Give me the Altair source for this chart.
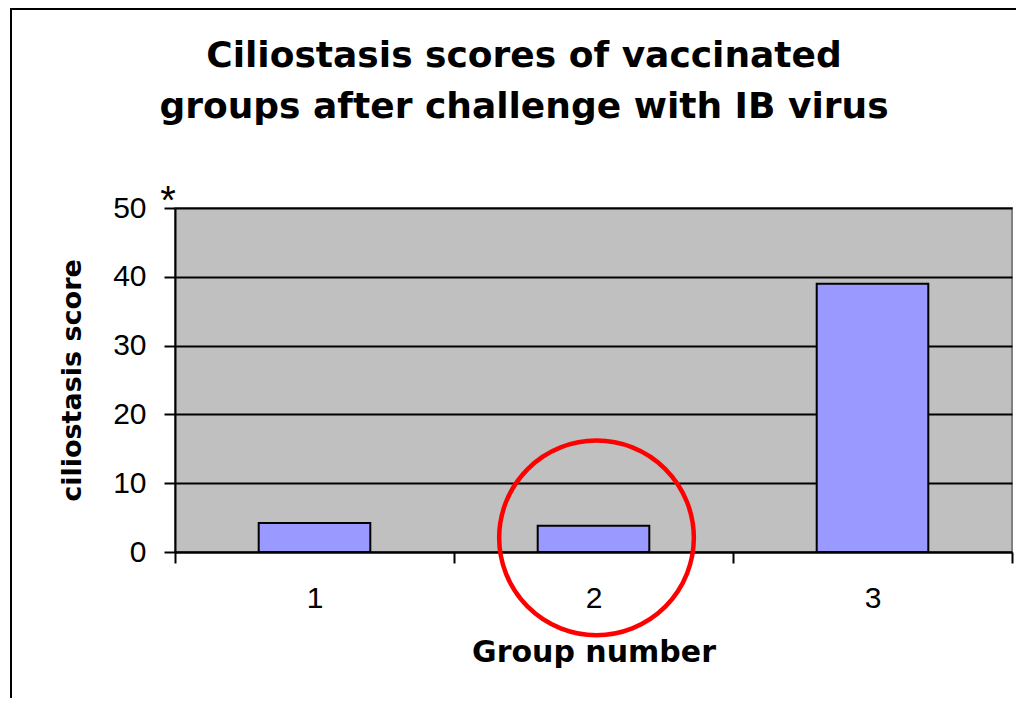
import altair as alt
import pandas as pd

# ---- data ----
groups = ["1", "2", "3"]
scores = [4.2, 3.8, 39.0]
y_ticks = [0, 10, 20, 30, 40, 50]
title_lines = ["Ciliostasis scores of vaccinated", "groups after challenge with IB virus"]
x_title = "Group number"
y_title = "ciliostasis score"
highlight_group = ["2"]
highlight_level = [2.2]
star_text = "*"
star_level = [50]

df = pd.DataFrame({"group": groups, "score": scores})
hl = pd.DataFrame({"group": highlight_group, "level": highlight_level})
star = pd.DataFrame({"level": star_level})
one = pd.DataFrame({"k": [0]})

W, H = 837, 344
PAD_L, PAD_T, PAD_R, PAD_B = 167, 200, 4, 146

x_enc = alt.X(
    "group:N",
    sort=groups,
    scale=alt.Scale(paddingInner=0, paddingOuter=0),
    axis=alt.Axis(
        title=x_title, labelAngle=0, tickBand="extent", grid=False,
        tickSize=11, labelPadding=20, labelFontSize=30, titleFontSize=30,
        titlePadding=24,
    ),
)
y_enc = alt.Y(
    "score:Q",
    scale=alt.Scale(domain=[0, 50], nice=False),
    axis=alt.Axis(
        title=y_title, values=y_ticks, grid=True, gridColor="black", gridWidth=2,
        tickSize=11, labelPadding=18, labelFontSize=30, titleFontSize=27,
        titlePadding=26,
    ),
)

bars = alt.Chart(df).mark_bar(
    color="#9999ff", stroke="black", strokeWidth=2, width=alt.RelativeBandSize(0.4)
).encode(x=x_enc, y=y_enc)

circle = alt.Chart(hl).mark_point(
    shape="circle", filled=False, size=37900, color="#ff0000", strokeWidth=4.5,
    opacity=1, xOffset=3, yOffset=1
).encode(x=alt.X("group:N", sort=groups), y=alt.Y("level:Q"))

asterisk = alt.Chart(star).mark_text(
    text=star_text, font="Liberation Sans", fontSize=40, color="black",
    align="center", baseline="alphabetic", dy=6
).encode(x=alt.value(-7), y=alt.Y("level:Q"))

title = alt.Chart(one).mark_text(
    text=title_lines, font="DejaVu Sans", fontSize=36, fontWeight="bold", color="black",
    align="center", baseline="alphabetic", lineHeight=51
).encode(x=alt.value(349), y=alt.value(-141))

frame_left = alt.Chart(one).mark_rule(color="black", strokeWidth=2).encode(
    x=alt.value(-164), y=alt.value(-200), y2=alt.value(H + PAD_B)
)
frame_top = alt.Chart(one).mark_rule(color="black", strokeWidth=2).encode(
    x=alt.value(-165), x2=alt.value(W + PAD_R), y=alt.value(-199)
)

chart = alt.layer(frame_left, frame_top, title, bars, asterisk, circle).properties(
    width=W, height=H,
    autosize="none",
    padding={"left": PAD_L, "top": PAD_T, "right": PAD_R, "bottom": PAD_B},
    background="white",
).configure_view(
    fill="#c0c0c0", stroke="#808080", strokeWidth=2
).configure_axis(
    domainColor="black", domainWidth=2, tickColor="black", tickWidth=2,
    labelFont="Liberation Sans", labelColor="black",
    titleFont="DejaVu Sans", titleFontWeight="bold", titleColor="black",
)

chart.save("out.html", embed_options={"renderer": "svg", "actions": False})
